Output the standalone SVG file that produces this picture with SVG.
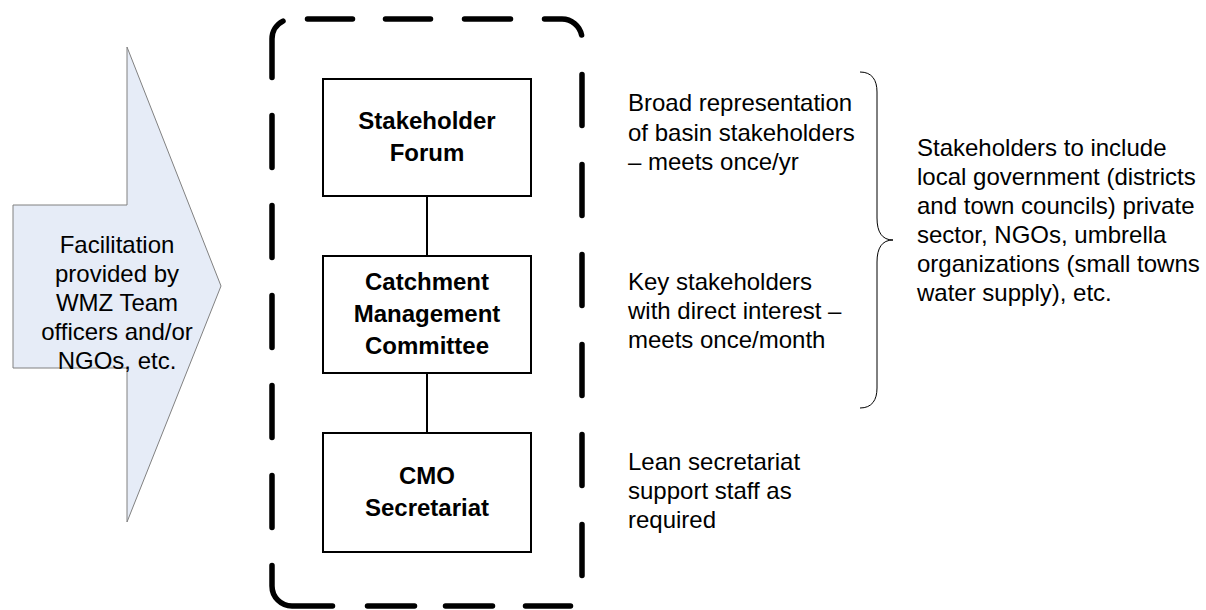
<svg xmlns="http://www.w3.org/2000/svg" width="1206" height="610" viewBox="0 0 1206 610">
<style>
.t{font-family:"Liberation Sans",Arial,sans-serif;font-size:24px;fill:#000}
.b{font-family:"Liberation Sans",Arial,sans-serif;font-size:24px;font-weight:bold;fill:#000;text-anchor:middle}
.box{fill:#fff;stroke:#000;stroke-width:2}
.c{stroke:#000;stroke-width:2;fill:none}
.d{fill:none;stroke:#000;stroke-width:5.5;stroke-linecap:round}
</style>
<rect width="1206" height="610" fill="#fff"/>
<g id="arrow">
<path d="M13,205 H127 V47 L221,286 L127,522 V368 H13 Z" fill="#e6ecf7" stroke="#808080" stroke-width="1"/>
<text class="t" text-anchor="middle"><tspan x="117" y="253">Facilitation</tspan><tspan x="117" y="282">provided by</tspan><tspan x="117" y="311">WMZ Team</tspan><tspan x="117" y="340">officers and/or</tspan><tspan x="117" y="369">NGOs, etc.</tspan></text>
</g>
<g id="boundary">
<path class="d" d="M272,77.5 V39 A20,20 0 0 1 283,21.1"/>
<path class="d" d="M307.5,19 H352.5 M385.5,19 H430.5 M464.5,19 H510.5"/>
<path class="d" d="M544.5,19 H562 A20,20 0 0 1 581.6,35"/>
<path class="d" d="M582,74.5 V125.5 M582,164.5 V215.5 M582,254.5 V305.5 M582,344.5 V395.5 M582,434.5 V485.5 M582,524.5 V575.5"/>
<path class="d" d="M570.5,606 H525.5 M492.5,606 H445.5 M414.5,606 H367.5"/>
<path class="d" d="M332.5,606 H292 A20,20 0 0 1 272,586 V565.5"/>
<path class="d" d="M272,527.5 V475.5 M272,437.5 V385.5 M272,347.5 V295.5 M272,257.5 V205.5 M272,167.5 V115.5"/>
</g>
<g id="connectors">
<line class="c" x1="427" y1="196" x2="427" y2="256"/>
<line class="c" x1="427" y1="373" x2="427" y2="433"/>
</g>
<g id="forum">
<rect class="box" x="323" y="79" width="208" height="117"/>
<text class="b"><tspan x="427" y="129">Stakeholder</tspan><tspan x="427" y="161">Forum</tspan></text>
</g>
<g id="cmc">
<rect class="box" x="323" y="256" width="208" height="117"/>
<text class="b"><tspan x="427" y="290">Catchment</tspan><tspan x="427" y="322">Management</tspan><tspan x="427" y="354">Committee</tspan></text>
</g>
<g id="cmo">
<rect class="box" x="323" y="433" width="208" height="119"/>
<text class="b"><tspan x="427" y="484">CMO</tspan><tspan x="427" y="516">Secretariat</tspan></text>
</g>
<g id="desc-forum">
<text class="t"><tspan x="628" y="111">Broad representation</tspan><tspan x="628" y="141">of basin stakeholders</tspan><tspan x="628" y="170">– meets once/yr</tspan></text>
</g>
<g id="desc-cmc">
<text class="t"><tspan x="628" y="290">Key stakeholders</tspan><tspan x="628" y="319">with direct interest –</tspan><tspan x="628" y="348">meets once/month</tspan></text>
</g>
<g id="desc-cmo">
<text class="t"><tspan x="628" y="470">Lean secretariat</tspan><tspan x="628" y="499">support staff as</tspan><tspan x="628" y="528">required</tspan></text>
</g>
<g id="brace">
<path d="M860,72 C872,72 877,80 877,92 V218 C877,232 882,240 893,240 C882,240 877,248 877,262 V388 C877,400 872,408 860,408" fill="none" stroke="#000" stroke-width="1"/>
</g>
<g id="stakeholders-note">
<text class="t"><tspan x="917" y="156">Stakeholders to include</tspan><tspan x="917" y="185">local government (districts</tspan><tspan x="917" y="214">and town councils) private</tspan><tspan x="917" y="243">sector, NGOs, umbrella</tspan><tspan x="917" y="272">organizations (small towns</tspan><tspan x="917" y="301">water supply), etc.</tspan></text>
</g>
</svg>
